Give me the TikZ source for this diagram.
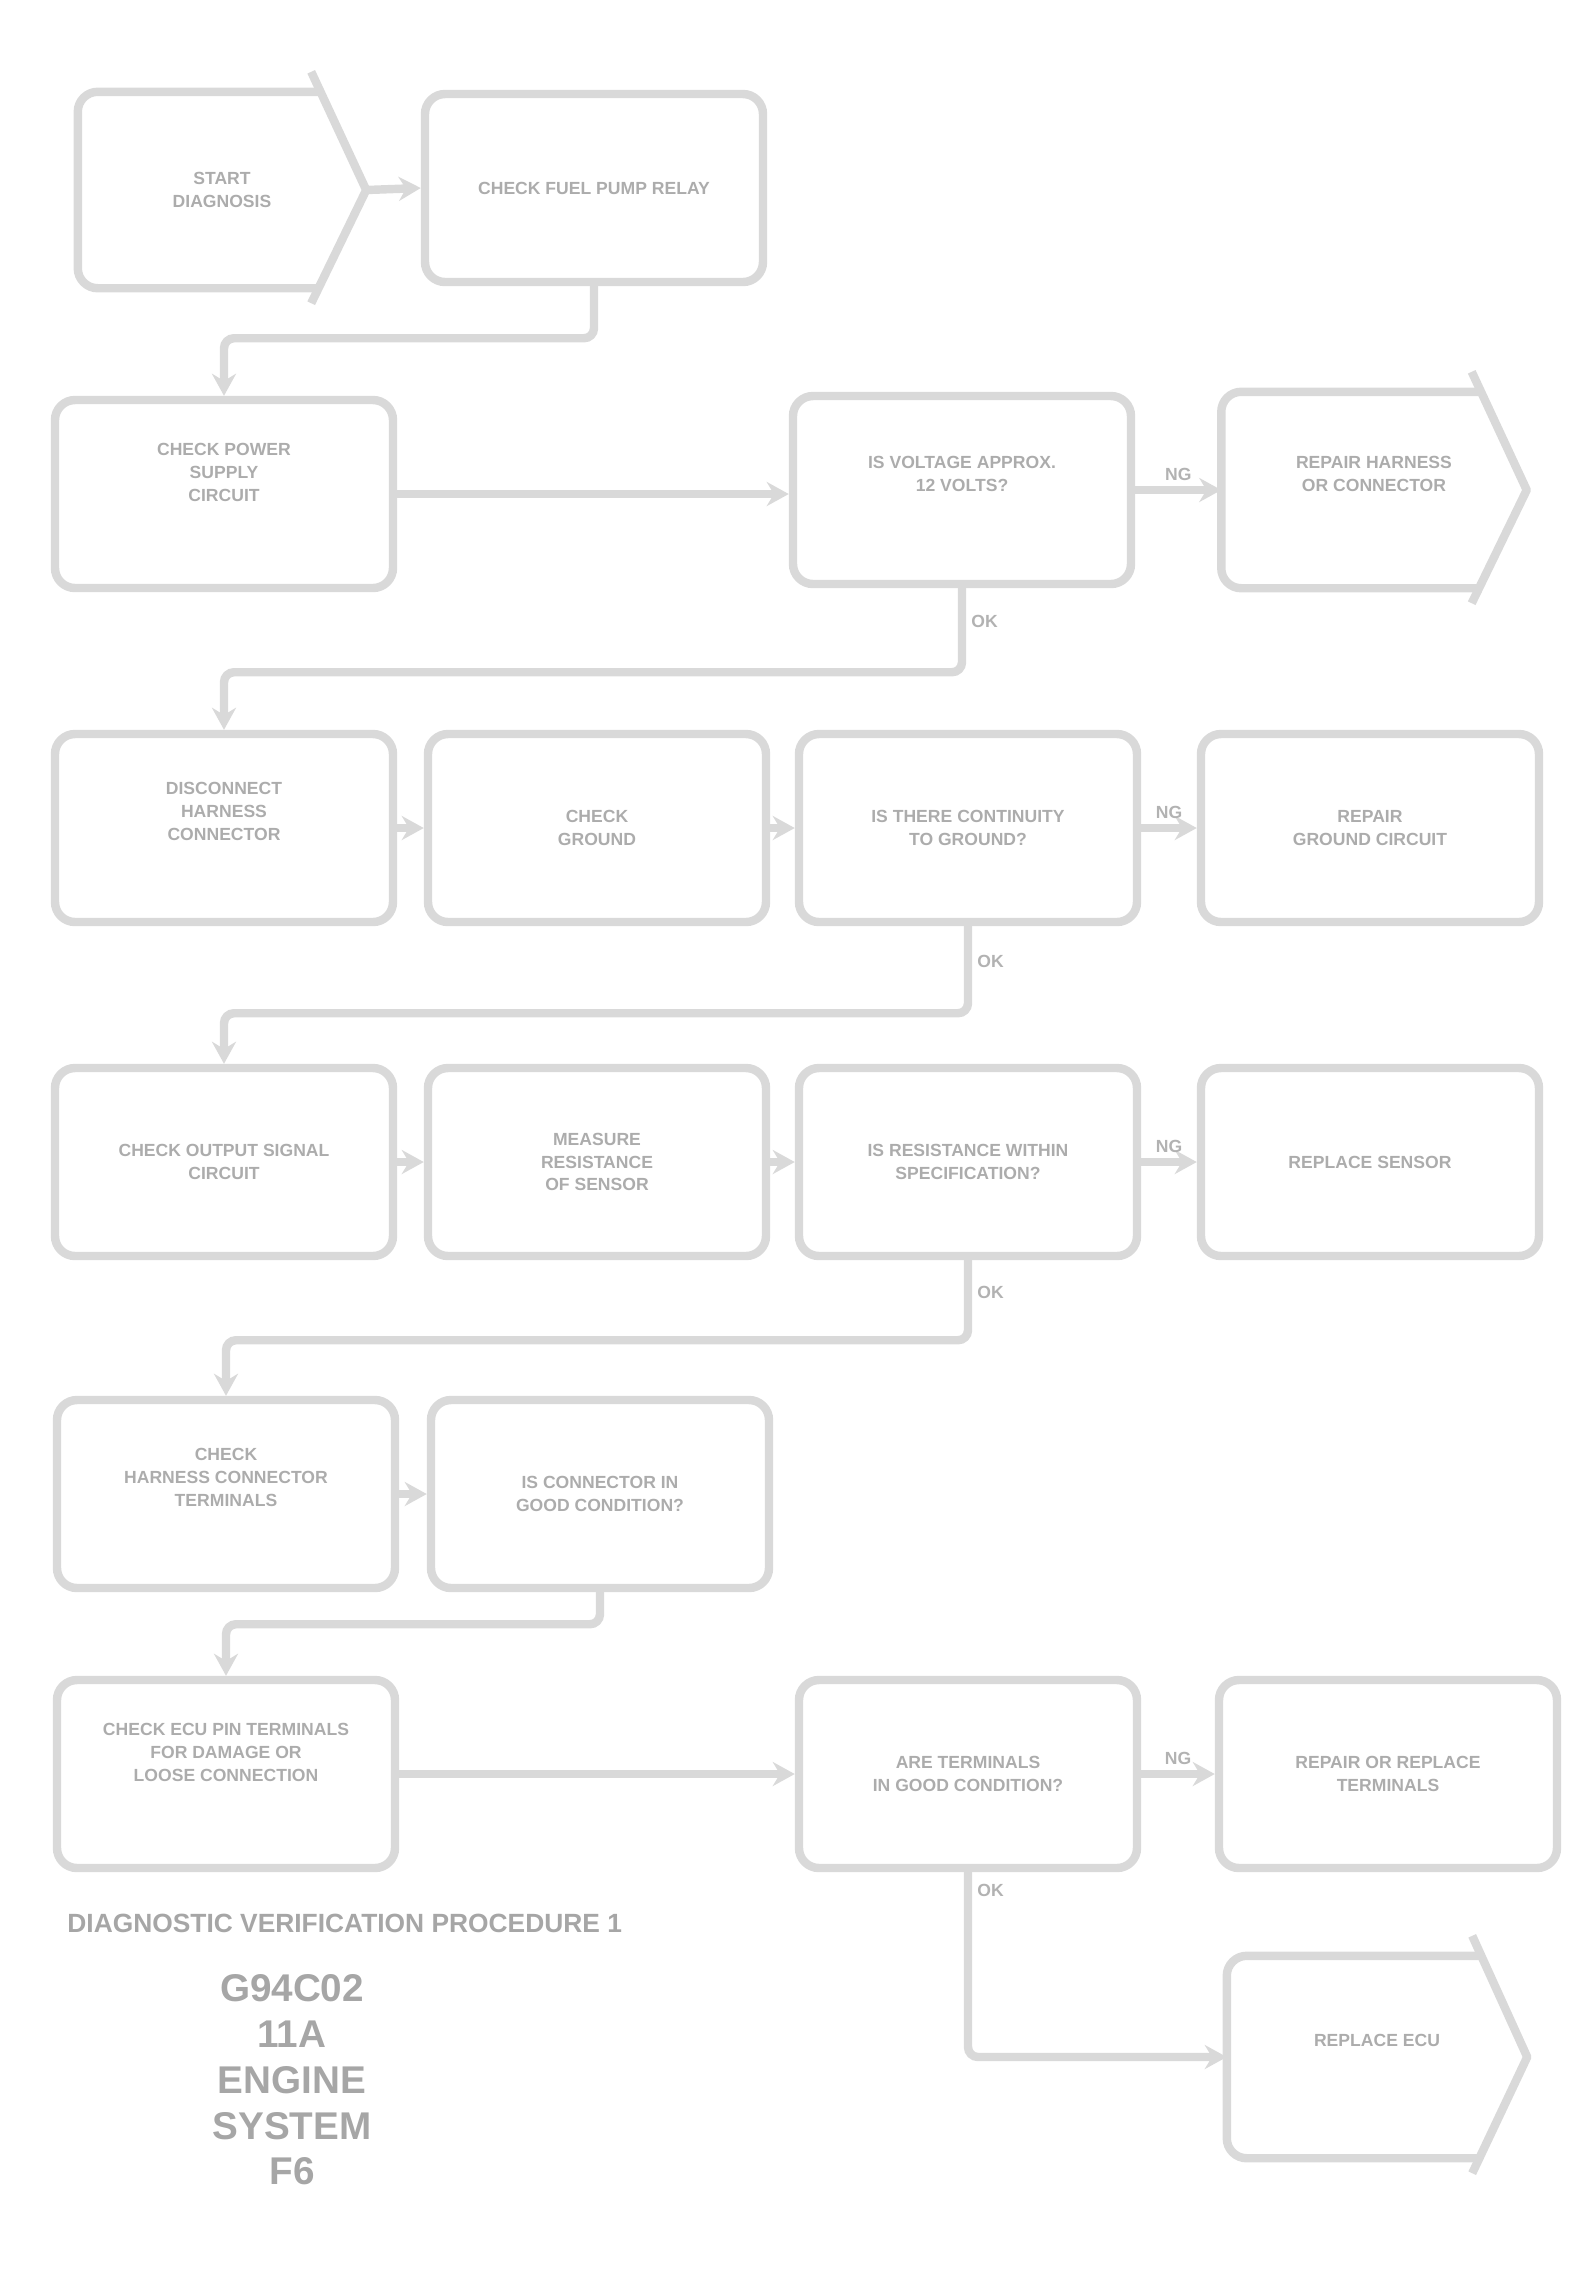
\documentclass[tikz,border=0pt]{standalone}
\usepackage{fontspec}
\setmainfont{Liberation Sans}
\usetikzlibrary{arrows.meta,calc}

\tikzset{
  stepbox/.style={draw=gray!30, line width=2.4pt, rounded corners=2mm, minimum width=33.8mm,
    minimum height=18.8mm, align=center, text=gray!65, font=\fontsize{5}{6.5}\selectfont\bfseries},
  endbox/.style={stepbox, draw=none},
  link/.style={draw=gray!30, line width=2.4pt, rounded corners=1mm, -{Stealth[length=2.2mm,width=2.4mm]}},
  tag/.style={text=gray!60, font=\fontsize{5}{6}\selectfont\bfseries, inner sep=1.5pt}
}
\newcommand\chevron[1]{%
  \draw[gray!30, line width=2.4pt, rounded corners=2mm] ([xshift=-4.5mm]#1.north east) -- (#1.north west)
    -- (#1.south west) -- ([xshift=-4.5mm]#1.south east);
  \draw[gray!30, line width=2.4pt, line join=round] ([xshift=-5.5mm,yshift=2mm]#1.north east) -- (#1.east)
    -- ([xshift=-5.5mm,yshift=-1.5mm]#1.south east);}

\begin{document}
\begin{tikzpicture}[x=0.1mm, y=-0.1mm]
  \useasboundingbox (0,0) rectangle (1595,2274);

  \node[endbox, minimum width=28mm] (start) at (222,190) {START\\DIAGNOSIS};
  \node[stepbox] (relay) at (594,188) {CHECK FUEL PUMP RELAY};
  \node[stepbox] (power) at (224,494) {CHECK POWER\\SUPPLY\\CIRCUIT\\[2mm]};
  \node[stepbox] (volt) at (962,490) {IS VOLTAGE APPROX.\\12 VOLTS?\\[1mm]};
  \node[endbox, minimum width=29.7mm] (harness) at (1374,490) {REPAIR HARNESS\\OR CONNECTOR\\[1mm]};

  \node[stepbox] (discon) at (224,828) {DISCONNECT\\HARNESS\\CONNECTOR\\[1mm]};
  \node[stepbox] (ground) at (597,828) {CHECK\\GROUND};
  \node[stepbox] (cont) at (968,828) {IS THERE CONTINUITY\\TO GROUND?};
  \node[stepbox] (gndfix) at (1370,828) {REPAIR\\GROUND CIRCUIT};

  \node[stepbox] (signal) at (224,1162) {CHECK OUTPUT SIGNAL\\CIRCUIT};
  \node[stepbox] (resist) at (597,1162) {MEASURE\\RESISTANCE\\OF SENSOR};
  \node[stepbox] (spec) at (968,1162) {IS RESISTANCE WITHIN\\SPECIFICATION?};
  \node[stepbox] (sensor) at (1370,1162) {REPLACE SENSOR};

  \node[stepbox] (term) at (226,1494) {CHECK\\HARNESS CONNECTOR\\TERMINALS\\[1mm]};
  \node[stepbox] (cond) at (600,1494) {IS CONNECTOR IN\\GOOD CONDITION?};

  \node[stepbox] (pins) at (226,1774) {CHECK ECU PIN TERMINALS\\FOR DAMAGE OR\\LOOSE CONNECTION\\[2mm]};
  \node[stepbox] (pinok) at (968,1774) {ARE TERMINALS\\IN GOOD CONDITION?};
  \node[stepbox] (pinfix) at (1388,1774) {REPAIR OR REPLACE\\TERMINALS};
  \node[endbox, minimum width=29.2mm, minimum height=19.4mm] (ecu) at (1377,2057) {REPLACE ECU\\[1mm]};

  \chevron{start}
  \chevron{harness}
  \chevron{ecu}

  \draw[link] (start.east) -- (relay.west);
  \draw[link] (relay.south) -- ++(0,52) -| (power.north);
  \draw[link] (power.east) -- (power.east -| volt.west);
  \draw[link] (volt.east) -- node[tag, above]{NG} (volt.east -| harness.west);
  \draw[link] (volt.south) -- node[tag, right, pos=0.4]{OK} ++(0,84) -| (discon.north);

  \draw[link] (discon.east) -- (ground.west);
  \draw[link] (ground.east) -- (cont.west);
  \draw[link] (cont.east) -- node[tag, above]{NG} (gndfix.west);
  \draw[link] (cont.south) -- node[tag, right, pos=0.4]{OK} ++(0,87) -| (signal.north);

  \draw[link] (signal.east) -- (resist.west);
  \draw[link] (resist.east) -- (spec.west);
  \draw[link] (spec.east) -- node[tag, above]{NG} (sensor.west);
  \draw[link] (spec.south) -- node[tag, right, pos=0.4]{OK} ++(0,80) -| (term.north);

  \draw[link] (term.east) -- (cond.west);
  \draw[link] (cond.south) -- ++(0,32) -| (pins.north);

  \draw[link] (pins.east) -- (pinok.west);
  \draw[link] (pinok.east) -- node[tag, above]{NG} (pinfix.west);
  \draw[link] (pinok.south) -- node[tag, right, pos=0.15]{OK} ++(0,120) |- (ecu.west);

  \node[anchor=west, text=gray!70, font=\fontsize{7.5}{8}\selectfont\bfseries] (title) at (55,1923)
    {DIAGNOSTIC VERIFICATION PROCEDURE 1};
  \node[align=center, text=gray!70, font=\fontsize{11}{13}\selectfont\bfseries] (figid) at (292,2080)
    {G94C02\\11A\\ENGINE\\SYSTEM\\F6};
\end{tikzpicture}
\end{document}
